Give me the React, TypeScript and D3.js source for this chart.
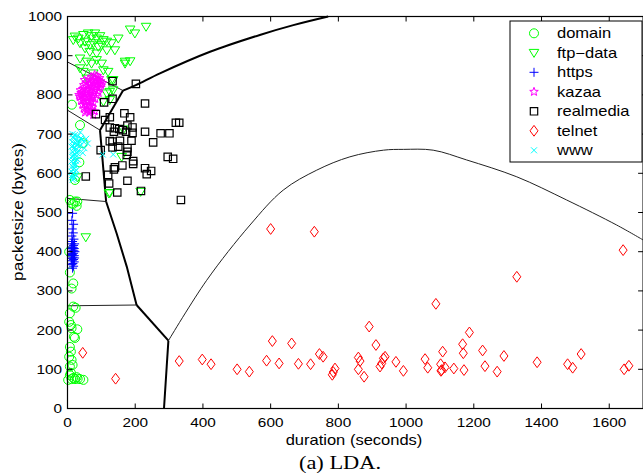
import React from "react";
import * as d3 from "d3";

type P = [number, number];

const xTicks = [0, 200, 400, 600, 800, 1000, 1200, 1400, 1600];
const yTicks = [0, 100, 200, 300, 400, 500, 600, 700, 800, 900, 1000];
const classes = ["domain", "ftp\u2212data", "https", "kazaa", "realmedia", "telnet", "www"];

const domainPts: P[] = [
  [13, 775], [37, 723], [45, 677], [35, 628], [22, 583], [7, 532], [22, 528], [29, 528], [12, 523], [27, 517],
  [17, 522], [7, 347], [17, 319], [12, 306], [17, 260], [24, 257], [7, 243], [5, 221], [10, 213], [29, 202],
  [12, 205], [22, 180], [19, 183], [7, 157], [10, 145], [5, 132], [12, 124], [7, 107], [15, 111], [10, 91],
  [7, 85], [2, 73], [12, 75], [22, 75], [30, 76], [37, 75], [47, 73], [17, 78], [27, 80], [5, 400],
];

const ftpPts: P[] = [
  [32, 944], [47, 953], [61, 957], [71, 950], [81, 957], [86, 944], [96, 950], [106, 940], [116, 936], [130, 932],
  [150, 944], [37, 932], [52, 936], [66, 927], [76, 932], [91, 923], [101, 927], [116, 914], [140, 914], [52, 919],
  [66, 910], [86, 906], [37, 893], [57, 885], [71, 880], [86, 889], [101, 880], [106, 863], [120, 859], [170, 885],
  [185, 886], [37, 868], [47, 859], [76, 855], [57, 842], [130, 838], [135, 812], [125, 787], [106, 783], [185, 967],
  [199, 957], [232, 974], [22, 949], [17, 940], [30, 590], [54, 437], [125, 550], [160, 642], [216, 553], [122, 549],
  [165, 712], [135, 838], [170, 880], [125, 808], [116, 804],
];

const httpsPts: P[] = [
  [15, 498], [13, 480], [18, 470], [14, 458], [17, 448], [13, 440], [19, 432], [15, 426], [12, 420], [18, 416],
  [14, 412], [20, 408], [16, 404], [12, 400], [18, 396], [14, 393], [20, 390], [16, 386], [12, 383], [18, 380],
  [14, 377], [20, 374], [16, 370], [13, 367], [18, 363], [15, 358], [21, 420], [11, 408], [22, 400], [11, 390],
  [21, 384], [17, 410], [19, 402], [13, 395],
];

const kazaaPts: P[] = [
  [80, 851], [88, 848], [95, 843], [70, 846], [62, 840], [75, 838], [85, 836], [98, 835], [103, 830], [55, 832],
  [68, 830], [78, 828], [90, 828], [100, 824], [48, 825], [60, 822], [72, 820], [84, 820], [95, 818], [45, 815],
  [55, 812], [66, 812], [78, 810], [90, 810], [40, 805], [50, 802], [62, 802], [74, 800], [86, 800], [36, 795],
  [46, 792], [58, 792], [70, 790], [82, 790], [40, 785], [52, 782], [64, 782], [76, 780], [44, 775], [56, 772],
  [68, 772], [48, 765], [60, 762], [72, 762], [52, 755], [64, 755], [76, 749], [80, 758], [92, 805], [58, 808],
  [34, 800], [50, 838], [38, 812], [66, 826], [82, 842], [92, 838], [74, 834], [60, 816], [70, 806], [82, 814],
  [52, 796], [64, 796], [76, 794], [46, 786], [58, 786], [70, 784], [50, 776], [62, 768], [74, 768], [56, 760],
  [68, 758], [44, 808], [88, 822], [78, 845], [96, 828], [42, 798],
];

const realPts: P[] = [
  [202, 828], [133, 790], [229, 778], [108, 781], [84, 751], [168, 753], [185, 743], [125, 743], [111, 736], [320, 729],
  [330, 729], [177, 722], [125, 717], [140, 715], [153, 713], [192, 717], [163, 710], [137, 706], [229, 706], [275, 702],
  [301, 702], [192, 703], [173, 706], [253, 679], [189, 683], [155, 683], [125, 682], [133, 681], [98, 659], [133, 666],
  [150, 668], [177, 664], [177, 655], [175, 647], [296, 642], [312, 637], [194, 631], [194, 624], [162, 620], [140, 615],
  [137, 610], [229, 613], [247, 606], [234, 598], [120, 596], [123, 574], [177, 581], [147, 551], [217, 555], [335, 532],
  [133, 835], [54, 592],
];

const telnetPts: P[] = [
  [45, 142], [142, 76], [330, 121], [398, 125], [424, 113], [501, 100], [537, 94], [588, 122], [605, 172], [625, 115],
  [662, 166], [682, 114], [718, 113], [744, 139], [755, 132], [790, 102], [785, 93], [782, 86], [859, 130], [864, 121],
  [859, 100], [876, 81], [891, 209], [911, 162], [933, 128], [938, 132], [928, 115], [923, 107], [970, 119], [992, 96],
  [1056, 126], [1064, 104], [1088, 267], [1108, 145], [1102, 113], [1105, 98], [1115, 105], [1103, 96], [1141, 102], [1171, 98],
  [1167, 164], [1169, 141], [1187, 194], [1226, 148], [1233, 108], [1269, 94], [1289, 134], [1387, 118], [1477, 113], [1492, 104],
  [1517, 139], [1644, 100], [1658, 109], [600, 458], [729, 451], [1641, 404], [1327, 336],
];

const wwwPts: P[] = [
  [15, 700], [22, 698], [30, 695], [40, 690], [55, 688], [18, 690], [26, 685], [35, 682], [48, 680], [60, 676],
  [14, 680], [20, 675], [28, 672], [38, 670], [12, 668], [18, 664], [24, 660], [32, 658], [45, 652], [15, 655],
  [20, 648], [28, 645], [14, 642], [22, 638], [30, 635], [12, 630], [18, 626], [25, 622], [14, 618], [20, 612],
  [26, 608], [12, 604], [18, 600], [24, 596], [13, 590], [19, 586], [15, 583], [104, 648], [135, 648], [38, 705],
  [16, 692], [24, 678], [34, 676], [16, 670], [22, 666], [28, 652], [16, 646], [24, 632], [16, 634], [20, 620],
  [16, 610], [22, 604], [14, 596], [20, 592], [42, 686], [50, 664],
];

// decision boundaries
const thickLines: P[][] = [
  [[164, 811], [202, 825], [273, 855], [421, 910], [568, 953], [667, 978], [770, 1000]],
  [[164, 811], [96, 710]],
  [[96, 710], [114, 528]],
  [[114, 528], [145, 447], [175, 362], [204, 264]],
  [[204, 264], [298, 173]],
  [[298, 173], [293, 107], [285, 0]],
];
const thinLines: P[][] = [
  [[0, 884], [164, 811]],
  [[0, 761], [96, 710]],
  [[0, 536], [114, 528]],
  [[0, 262], [204, 264]],
];
const curveLine: P[] = [
  [298, 173], [411, 327], [539, 468], [637, 557], [736, 608], [834, 642], [933, 659], [992, 661], [1080, 659],
  [1179, 634], [1327, 591], [1474, 532], [1622, 468], [1700, 430],
];

const W = 643, H = 476;
const x = d3.scaleLinear().domain([0, 1700]).range([67.5, 643.1]);
const y = d3.scaleLinear().domain([0, 1000]).range([408.5, 16.5]);

function starPath(ro: number, ri: number) {
  const pts: string[] = [];
  for (let i = 0; i < 10; i++) {
    const r = i % 2 === 0 ? ro : ri;
    const a = -Math.PI / 2 + (i * Math.PI) / 5;
    pts.push(`${(r * Math.cos(a)).toFixed(2)},${(r * Math.sin(a)).toFixed(2)}`);
  }
  return "M" + pts.join("L") + "Z";
}

const markers: { path: string; color: string; sw: number }[] = [
  { path: "M4.5,0A4.5,4.5 0 1,1 -4.5,0A4.5,4.5 0 1,1 4.5,0Z", color: "#00ff00", sw: 1 },
  { path: "M-4.8,-3.4L4.8,-3.4L0,4.6Z", color: "#00ff00", sw: 1 },
  { path: "M-4.5,0H4.5M0,-4.5V4.5", color: "#0000ff", sw: 1 },
  { path: starPath(4.5, 1.9), color: "#ff00ff", sw: 1 },
  { path: "M-3.7,-3.7H3.7V3.7H-3.7Z", color: "#000000", sw: 1.2 },
  { path: "M0,-5.4L4,0L0,5.4L-4,0Z", color: "#ff0000", sw: 1 },
  { path: "M-3,-3L3,3M-3,3L3,-3", color: "#00ffff", sw: 1 },
];
const series: P[][] = [domainPts, ftpPts, httpsPts, kazaaPts, realPts, telnetPts, wwwPts];

const FONT = "'Liberation Sans', Arial, Helvetica, sans-serif";
const SX = 1.18;

function T(props: { x: number; y: number; size: number; anchor?: string; rot?: number; family?: string; children: React.ReactNode }) {
  const { x: tx, y: ty, size, anchor = "start", rot = 0, family = FONT, children } = props;
  return (
    <text
      transform={`translate(${tx},${ty}) rotate(${rot}) scale(${SX},1)`}
      fontSize={size}
      fontFamily={family}
      textAnchor={anchor}
      fill="#000"
    >
      {children}
    </text>
  );
}

export default function App() {
  const line = d3.line<P>().x((d) => x(d[0])).y((d) => y(d[1]));
  const smooth = d3.line<P>().x((d) => x(d[0])).y((d) => y(d[1])).curve(d3.curveCatmullRom);
  const [x0, x1] = x.range();
  const [y0, y1] = y.range();
  const legendRows = classes.map((c, i) => ({ c, i, cy: 33.3 + i * 19.5 }));

  return (
    <svg width={W} height={H} style={{ position: "absolute", left: 0, top: 0, background: "#fff" }}>
      <rect x={0} y={0} width={W} height={H} fill="#fff" />
      {/* boundaries */}
      {thinLines.map((l, i) => (
        <path key={"tn" + i} d={line(l) || ""} fill="none" stroke="#222" strokeWidth={1} />
      ))}
      <path d={smooth(curveLine) || ""} fill="none" stroke="#222" strokeWidth={1} />
      {thickLines.map((l, i) => (
        <path key={"tk" + i} d={(i === 0 ? smooth(l) : line(l)) || ""} fill="none" stroke="#000" strokeWidth={2} strokeLinejoin="round" />
      ))}
      {/* points */}
      {series.map((pts, si) => (
        <g key={"s" + si}>
          {pts.map((d, j) => (
            <path
              key={j}
              d={markers[si].path}
              transform={`translate(${x(d[0])},${y(d[1])})`}
              fill="none"
              stroke={markers[si].color}
              strokeWidth={markers[si].sw}
            />
          ))}
        </g>
      ))}
      {/* axes box */}
      <rect x={x0} y={y1} width={x1 - x0} height={y0 - y1} fill="none" stroke="#000" strokeWidth={1.2} />
      {xTicks.map((t) => (
        <g key={"xt" + t}>
          <line x1={x(t)} x2={x(t)} y1={y0} y2={y0 - 5} stroke="#000" />
          <line x1={x(t)} x2={x(t)} y1={y1} y2={y1 + 5} stroke="#000" />
          <T x={x(t)} y={427} size={13} anchor="middle">{t}</T>
        </g>
      ))}
      {yTicks.map((t) => (
        <g key={"yt" + t}>
          <line x1={x0} x2={x0 + 5} y1={y(t)} y2={y(t)} stroke="#000" />
          <line x1={x1} x2={x1 - 5} y1={y(t)} y2={y(t)} stroke="#000" />
          <T x={62} y={y(t) + 4.5} size={13} anchor="end">{t}</T>
        </g>
      ))}
      <T x={354} y={445} size={14} anchor="middle">duration (seconds)</T>
      <T x={23} y={212} size={14.5} anchor="middle" rot={-90}>packetsize (bytes)</T>
      <T x={340} y={469} size={19} anchor="middle" family="'Liberation Serif', 'Times New Roman', serif">(a) LDA.</T>
      {/* legend */}
      <rect x={510} y={21} width={132} height={141} fill="#fff" stroke="#000" strokeWidth={1} />
      {legendRows.map((r) => (
        <g key={"lg" + r.i}>
          <path
            d={markers[r.i].path}
            transform={`translate(534,${r.cy})`}
            fill="none"
            stroke={markers[r.i].color}
            strokeWidth={markers[r.i].sw}
          />
          <T x={557} y={r.cy + 5} size={14}>{r.c}</T>
        </g>
      ))}
    </svg>
  );
}
